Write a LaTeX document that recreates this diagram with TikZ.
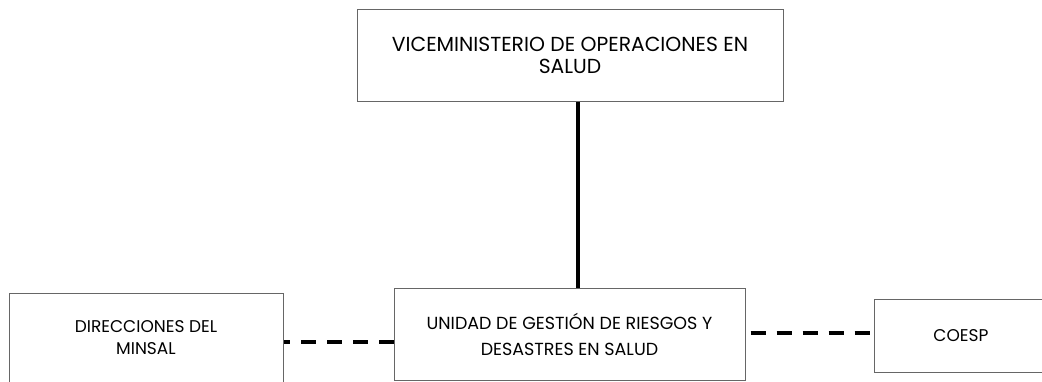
\documentclass[tikz,border=0pt]{standalone}
\usepackage{fontspec}
\setmainfont{Poppins}
\usetikzlibrary{positioning}

\tikzset{
  unitbox/.style={draw=black!60, line width=1pt, align=center, inner sep=0pt},
  solidlink/.style={line width=4pt},
  dashlink/.style={line width=3.5pt, dash pattern=on 15pt off 11pt}
}

\begin{document}
\begin{tikzpicture}[x=1pt,y=-1pt]

        \clip (0,0) rectangle (1042,381);

        % Boxes
        \node[unitbox, minimum width=426pt, minimum height=92pt, font=\fontsize{20.3}{22}\selectfont] (vice) at (570,55)
            {VICEMINISTERIO DE OPERACIONES EN\\SALUD};
        \node[unitbox, minimum width=351pt, minimum height=92pt, font=\fontsize{17.5}{26}\selectfont] (ugrd) at (569.5,334)
            {UNIDAD DE GESTIÓN DE RIESGOS Y\\DESASTRES EN SALUD};
        \node[unitbox, minimum width=274pt, minimum height=90pt, font=\fontsize{17}{22}\selectfont] (dirs) at (146,338)
            {DIRECCIONES DEL\\MINSAL};
        \node[unitbox, minimum width=174pt, minimum height=73pt, font=\fontsize{17}{20}\selectfont] (coesp) at (961,335.5)
            {COESP};

        % Links
        \draw[solidlink] ([xshift=8pt]vice.south) -- ([xshift=8pt]vice.south |- ugrd.north);
        \draw[dashlink] ([yshift=-8pt]ugrd.west) -- ([yshift=-8pt]ugrd.west -| dirs.east);
        \draw[dashlink, dash phase=21pt] ([yshift=1pt]ugrd.east) -- ([yshift=1pt]ugrd.east -| coesp.west);
    \end{tikzpicture}
\end{document}
